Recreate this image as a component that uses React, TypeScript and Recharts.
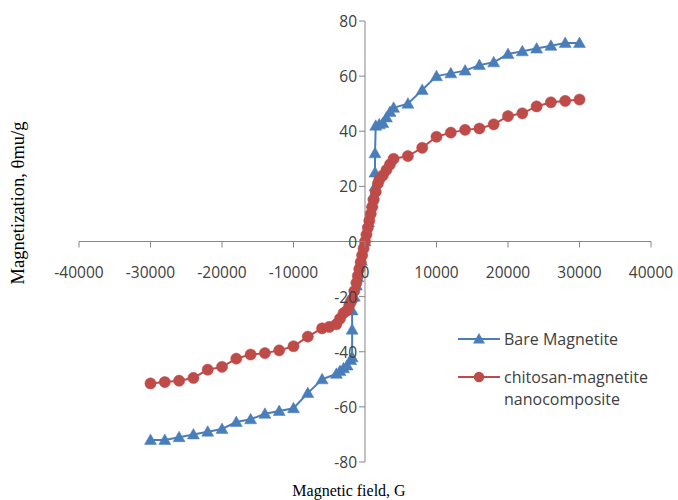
import React from "react";
import { LineChart, Line, XAxis, YAxis, ReferenceLine, Legend } from "recharts";

const X_TICKS = [-40000, -30000, -20000, -10000, 0, 10000, 20000, 30000, 40000];
const Y_TICKS = [-80, -60, -40, -20, 0, 20, 40, 60, 80];

const BARE_NAME = "Bare Magnetite";
const BARE_FIELD = [
  -30000, -28000, -26000, -24000, -22000, -20000, -18000, -16000, -14000, -12000,
  -10000, -8000, -6000, -4000, -3500, -3000, -2500, -2000, -1800, -1800, -1800,
  -1500, -1200, -1000, -500, 0, 500, 1000, 1200, 1400, 1400, 1400, 1500, 2000,
  2500, 3000, 3500, 4000, 6000, 8000, 10000, 12000, 14000, 16000, 18000, 20000,
  22000, 24000, 26000, 28000, 30000,
];
const BARE_MAG = [
  -72, -72, -71, -70, -69, -68, -65.5, -64.5, -62.5, -61.5,
  -60.5, -55, -50, -48, -47, -46, -45, -43, -42, -32, -25,
  -20, -16, -13, -7, 0, 7, 14, 17, 20, 25, 32, 42, 42.5,
  43, 45, 47, 48.5, 50, 55, 60, 61, 62, 64, 65, 68,
  69, 70, 71, 72, 72,
];

const CHI_NAME = "chitosan-magnetite nanocomposite";
const CHI_FIELD = [
  -30000, -28000, -26000, -24000, -22000, -20000, -18000, -16000, -14000, -12000,
  -10000, -8000, -6000, -5000, -4000, -3500, -3000, -2500, -2200, -2000, -1800,
  -1500, -1200, -1000, -800, -600, -400, -200, 0, 200, 400, 600, 800, 1000, 1200,
  1500, 1800, 2000, 2500, 3000, 3500, 4000, 6000, 8000, 10000, 12000, 14000,
  16000, 18000, 20000, 22000, 24000, 26000, 28000, 30000,
];
const CHI_MAG = [
  -51.5, -51, -50.5, -49.5, -46.5, -45.5, -42.5, -41, -40.5, -39.5,
  -38, -34.5, -31.5, -31, -30, -28, -26, -25, -23, -22, -21,
  -18, -15, -12.5, -10, -7.5, -5, -2.5, 0, 2.5, 5, 7.5, 10, 12.5, 15,
  18, 21, 22.5, 24, 26, 28, 30, 31, 34, 38, 39.5, 40.5,
  41, 42.5, 45.5, 46.5, 49, 50.5, 51, 51.5,
];

const BLUE = "#4A7EBB";
const RED = "#BE4B48";
const AXIS = "#868686";
const TEXT = "#404040";
const FONT = "'Open Sans', 'Noto Sans', sans-serif";
const SERIF = "'Liberation Serif', 'DejaVu Serif', serif";

const W = 678;
const H = 500;
const Y_AXIS_W = 60;
const X_AXIS_H = 30;
const MARGIN = { top: 21, right: 27, bottom: 38 - X_AXIS_H, left: 79 - Y_AXIS_W };
const PLOT_LEFT = MARGIN.left + Y_AXIS_W;
const PLOT_BOTTOM = H - MARGIN.bottom - X_AXIS_H;
const CENTER_X = PLOT_LEFT + (W - PLOT_LEFT - MARGIN.right) / 2;
const ZERO_Y = MARGIN.top + (PLOT_BOTTOM - MARGIN.top) / 2;

const bareData = BARE_FIELD.map((x, i) => ({ x, y: BARE_MAG[i] }));
const chiData = CHI_FIELD.map((x, i) => ({ x, y: CHI_MAG[i] }));

const XTick = (props: any) => {
  const { x, payload } = props;
  return (
    <g>
      <line x1={x} x2={x} y1={ZERO_Y} y2={ZERO_Y + 6} stroke={AXIS} strokeWidth={1} />
      <text x={x} y={ZERO_Y + 30} textAnchor="middle" dominantBaseline="central" fontSize={15.5} fontFamily={FONT} fill={TEXT}>
        {payload.value}
      </text>
    </g>
  );
};

const YTick = (props: any) => {
  const { y, payload } = props;
  return (
    <g>
      <line x1={CENTER_X - 6} x2={CENTER_X} y1={y} y2={y} stroke={AXIS} strokeWidth={1} />
      <text x={CENTER_X - 8} y={y} textAnchor="end" dominantBaseline="central" fontSize={15.5} fontFamily={FONT} fill={TEXT}>
        {payload.value}
      </text>
    </g>
  );
};

const TriangleDot = (props: any) => {
  const { cx, cy, index } = props;
  if (cx == null || cy == null) return <g key={index} />;
  return (
    <polygon
      key={index}
      points={`${cx},${cy - 6} ${cx - 6},${cy + 4.5} ${cx + 6},${cy + 4.5}`}
      fill={BLUE}
      stroke={BLUE}
      strokeWidth={0.5}
    />
  );
};

const CircleDot = (props: any) => {
  const { cx, cy, index } = props;
  if (cx == null || cy == null) return <g key={index} />;
  return <circle key={index} cx={cx} cy={cy} r={5.6} fill={RED} stroke={RED} strokeWidth={0.5} />;
};

const LegendContent = (props: any) => {
  const items = props.payload || [];
  return (
    <div style={{ fontFamily: FONT, fontSize: 16, color: TEXT }}>
      {items.map((it: any, i: number) => (
        <div key={i} style={{ display: "flex", alignItems: "flex-start", marginBottom: 16 }}>
          <svg width={44} height={22} style={{ flex: "none" }}>
            <line x1={0} x2={42} y1={11} y2={11} stroke={it.color} strokeWidth={2} />
            {i === 0 ? (
              <polygon points="21,5 15,15.5 27,15.5" fill={it.color} />
            ) : (
              <circle cx={21} cy={11} r={5.2} fill={it.color} />
            )}
          </svg>
          <div style={{ width: 150, lineHeight: "22px", marginLeft: 2 }}>{it.value}</div>
        </div>
      ))}
    </div>
  );
};

export default function App() {
  return (
    <div style={{ position: "absolute", left: 0, top: 0, width: W, height: H, background: "#fff" }}>
      <LineChart width={W} height={H} margin={MARGIN}>
        <XAxis
          type="number"
          dataKey="x"
          domain={[-40000, 40000]}
          ticks={X_TICKS}
          interval={0}
          height={X_AXIS_H}
          axisLine={false}
          tickLine={false}
          tick={XTick}
          label={{
            content: () => (
              <text x={349} y={490} textAnchor="middle" dominantBaseline="central" fontSize={16} fontFamily={SERIF} fill="#000">
                Magnetic field, G
              </text>
            ),
          }}
        />
        <YAxis
          type="number"
          dataKey="y"
          domain={[-80, 80]}
          ticks={Y_TICKS}
          interval={0}
          width={Y_AXIS_W}
          axisLine={false}
          tickLine={false}
          tick={YTick}
          label={{
            content: () => (
              <text
                x={18}
                y={203}
                textAnchor="middle"
                dominantBaseline="central"
                fontSize={18.5}
                fontFamily={SERIF}
                fill="#000"
                transform="rotate(-90 18 203)"
              >
                Magnetization, θmu/g
              </text>
            ),
          }}
        />
        <ReferenceLine y={0} stroke={AXIS} strokeWidth={1} />
        <ReferenceLine x={0} stroke={AXIS} strokeWidth={1} />
        <Line
          data={bareData}
          dataKey="y"
          name={BARE_NAME}
          type="linear"
          stroke={BLUE}
          strokeWidth={2}
          dot={TriangleDot}
          activeDot={false}
          isAnimationActive={false}
        />
        <Line
          data={chiData}
          dataKey="y"
          name={CHI_NAME}
          type="linear"
          stroke={RED}
          strokeWidth={2}
          dot={CircleDot}
          activeDot={false}
          isAnimationActive={false}
        />
        <Legend
          layout="horizontal"
          align="center"
          verticalAlign="middle"
          content={LegendContent}
          wrapperStyle={{ left: 458, top: 328, width: 210, height: 100 }}
        />
      </LineChart>
    </div>
  );
}
